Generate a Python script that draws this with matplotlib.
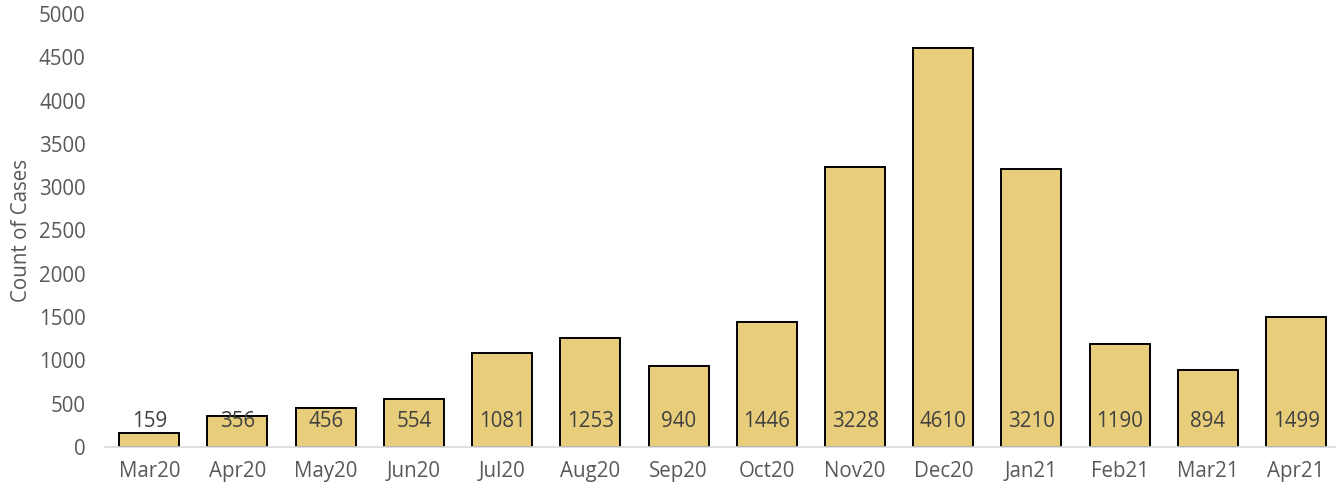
import matplotlib

matplotlib.use("Agg")
import matplotlib.pyplot as plt
import numpy as np

months = ["Mar20", "Apr20", "May20", "Jun20", "Jul20", "Aug20", "Sep20",
          "Oct20", "Nov20", "Dec20", "Jan21", "Feb21", "Mar21", "Apr21"]
cases = [159, 356, 456, 554, 1081, 1253, 940, 1446, 3228, 4610, 3210,
         1190, 894, 1499]
y_ticks = list(range(0, 5001, 500))

plt.rcParams["font.family"] = ["Open Sans", "DejaVu Sans"]

fig = plt.figure(figsize=(13.36, 4.91), dpi=100)
ax = fig.add_axes([0.0787, 0.0896, 0.9245, 0.882])

x = np.arange(len(months))
ax.bar(x, cases, width=0.68, color="#E8CE7A", edgecolor="black",
       linewidth=1.4, zorder=2)

# value labels sit at a fixed height near the base of each bar
for xi, v in zip(x, cases):
    ax.text(xi, 290, str(v), ha="center", va="center",
            fontsize=14.8, color="#404040", zorder=3)

ax.set_xlim(-0.5, len(months) - 0.5)
ax.set_ylim(0, 5000)
ax.set_yticks(y_ticks)
ax.set_xticks(x)
ax.set_xticklabels(months)
ax.tick_params(axis="both", length=0, labelsize=14.8, labelcolor="#595959")
ax.tick_params(axis="x", pad=10)
ax.tick_params(axis="y", pad=14)
ax.set_ylabel("Count of Cases", fontsize=14.8, color="#595959", labelpad=5)

for side in ("top", "right", "left"):
    ax.spines[side].set_visible(False)
ax.spines["bottom"].set_color("#D9D9D9")
ax.spines["bottom"].set_linewidth(1.2)

fig.savefig("out.png", dpi=100)
